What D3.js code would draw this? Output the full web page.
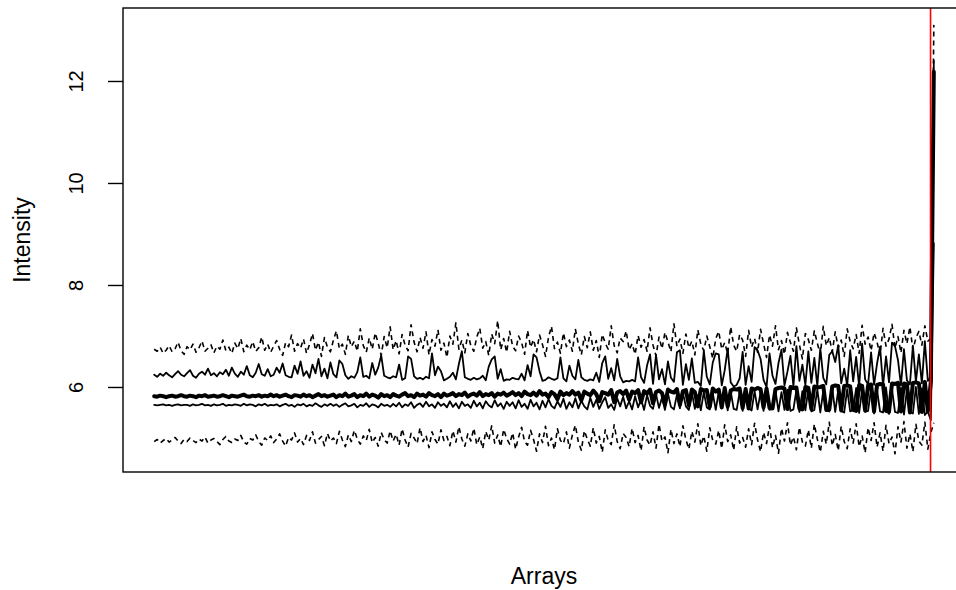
<!DOCTYPE html>
<html>
<head>
<meta charset="utf-8">
<script src="https://cdn.jsdelivr.net/npm/d3@7"></script>
<style>
  body { margin: 0; background: #fff; }
  svg text { font-family: "Liberation Sans", Arial, Helvetica, sans-serif; fill: #000; }
</style>
</head>
<body>
<div id="chart"></div>
<script>
// per-array intensity quantiles, one value per array (left to right)
const q95 = [
  6.74,6.70,6.78,6.66,6.72,6.81,6.69,6.75,6.88,6.71,6.64,6.79,6.73,6.84,6.68,6.77,6.90,6.70,6.76,6.83,
  6.67,6.80,6.74,6.92,6.71,6.78,6.66,6.86,6.75,6.95,6.69,6.82,6.73,6.89,6.70,6.77,6.98,6.72,6.84,6.68,
  6.80,6.91,6.74,6.62,6.87,6.79,7.02,6.70,6.85,6.76,6.94,6.66,6.83,7.05,6.72,6.88,6.60,6.97,6.78,6.69,
  6.92,7.10,6.75,6.84,6.64,7.01,6.79,6.90,6.70,7.14,6.81,6.68,6.96,6.74,7.06,6.86,6.62,6.99,6.77,7.18,
  6.73,6.91,6.65,7.03,6.82,6.71,7.22,6.88,6.69,6.97,6.76,7.08,6.63,6.93,6.80,7.12,6.72,6.86,6.58,7.00,
  6.84,7.26,6.74,6.92,6.67,7.05,6.81,6.70,6.98,7.15,6.76,6.89,6.62,7.04,6.85,7.30,6.73,6.95,6.68,7.09,
  6.80,6.71,7.00,6.87,6.64,7.11,6.78,6.93,6.69,7.02,6.83,6.60,6.97,7.19,6.75,6.88,6.66,7.06,6.79,6.92,
  6.70,7.14,6.84,6.63,6.99,6.77,7.08,6.72,6.91,6.58,7.03,6.86,6.74,7.20,6.81,6.67,6.96,6.89,7.10,6.73,
  6.85,6.64,7.01,6.78,6.93,6.70,7.16,6.82,6.61,6.98,6.75,7.07,6.88,6.69,7.24,6.80,6.94,6.66,7.04,6.77,
  6.90,6.63,7.12,6.84,6.71,7.00,6.79,6.56,6.95,7.09,6.74,6.87,6.65,7.18,6.82,6.70,7.03,6.92,6.60,7.11,
  6.78,6.95,6.68,7.13,6.85,6.58,7.02,6.80,7.20,6.73,6.91,6.64,7.07,6.87,6.70,7.16,6.83,6.55,7.05,6.93,
  6.72,7.10,6.86,6.63,7.19,6.81,6.97,6.69,7.08,6.77,6.92,6.60,7.14,6.89,6.75,7.03,6.66,7.21,6.84,6.98,
  6.71,7.06,6.88,6.62,7.15,6.80,6.94,7.23,6.76,6.99,6.67,7.11,6.85,7.18,6.73,6.96,7.09,6.82,7.20,6.90,
  6.95,13.10
];
const q75 = [
  6.24,6.20,6.26,6.22,6.28,6.23,6.19,6.25,6.31,6.24,6.21,6.27,6.33,6.22,6.18,6.26,6.30,6.24,6.36,6.23,
  6.27,6.21,6.29,6.25,6.34,6.22,6.38,6.26,6.20,6.30,6.24,6.41,6.23,6.19,6.28,6.45,6.25,6.22,6.35,6.21,
  6.24,6.38,6.28,6.46,6.23,6.20,6.19,6.42,6.26,6.50,6.22,6.31,6.18,6.44,6.27,6.55,6.21,6.36,6.17,6.48,
  6.25,6.19,6.52,6.45,6.23,6.16,6.21,6.18,6.29,6.58,6.20,6.22,6.17,6.47,6.24,6.38,6.62,6.22,6.19,6.17,
  6.21,6.19,6.44,6.14,6.17,6.60,6.55,6.21,6.16,6.18,6.15,6.20,6.17,6.66,6.23,6.40,6.31,6.13,6.16,6.20,
  6.28,6.15,6.45,6.70,6.19,6.16,6.14,6.18,6.15,6.17,6.22,6.13,6.40,6.54,6.60,6.16,6.35,6.12,6.15,6.14,
  6.18,6.16,6.15,6.26,6.13,6.43,6.21,6.64,6.58,6.31,6.12,6.14,6.19,6.16,6.14,6.17,6.58,6.17,6.11,6.42,
  6.22,6.15,6.53,6.19,6.14,6.12,6.15,6.13,6.28,6.10,6.47,6.60,6.16,6.37,6.13,6.55,6.21,6.09,6.12,6.11,
  6.14,6.11,6.58,6.19,6.08,6.42,6.64,6.06,6.63,6.15,6.35,6.05,6.50,6.18,6.10,6.68,6.72,6.04,6.45,6.14,
  6.56,6.08,6.10,6.02,6.71,6.20,6.05,6.48,6.66,6.64,6.03,6.33,6.75,6.09,6.01,6.04,6.17,6.69,6.04,6.41,
  6.10,6.78,6.72,6.55,6.14,6.00,6.66,6.22,6.06,6.47,6.73,6.03,6.30,6.61,6.01,6.80,6.12,6.44,6.04,6.70,
  6.08,6.57,6.02,6.76,6.18,6.05,6.63,6.70,6.49,6.82,6.07,6.36,6.03,6.72,6.11,6.59,6.01,6.85,6.15,6.05,
  6.68,6.04,6.46,6.79,6.02,6.60,6.09,6.87,6.80,6.53,6.03,6.74,6.13,6.05,6.81,6.10,6.64,6.07,6.90,6.12,
  6.20,12.40
];
const q50 = [
  5.82,5.81,5.83,5.82,5.80,5.82,5.83,5.81,5.82,5.84,5.82,5.81,5.83,5.82,5.80,5.83,5.82,5.84,5.81,5.82,
  5.83,5.81,5.82,5.84,5.82,5.80,5.83,5.82,5.81,5.83,5.85,5.82,5.81,5.83,5.82,5.84,5.81,5.83,5.82,5.85,
  5.82,5.84,5.81,5.83,5.85,5.82,5.80,5.84,5.83,5.81,5.85,5.82,5.84,5.80,5.83,5.86,5.82,5.84,5.81,5.83,
  5.85,5.80,5.84,5.82,5.87,5.81,5.83,5.86,5.80,5.84,5.82,5.87,5.81,5.85,5.83,5.79,5.86,5.82,5.84,5.80,
  5.86,5.83,5.81,5.85,5.88,5.82,5.84,5.80,5.87,5.83,5.85,5.81,5.88,5.84,5.82,5.86,5.80,5.87,5.83,5.85,
  5.88,5.82,5.86,5.84,5.89,5.81,5.85,5.87,5.83,5.90,5.82,5.86,5.84,5.88,5.81,5.87,5.85,5.89,5.83,5.86,
  5.90,5.84,5.88,5.82,5.91,5.86,5.84,5.89,5.83,5.92,5.85,5.87,5.80,5.90,5.86,5.76,5.91,5.84,5.88,5.85,
  5.92,5.85,5.89,5.74,5.91,5.87,5.84,5.93,5.86,5.72,5.90,5.88,5.85,5.94,5.70,5.89,5.92,5.86,5.93,5.75,
  5.91,5.88,5.94,5.70,5.92,5.87,5.95,5.68,5.90,5.93,5.88,5.66,5.95,5.91,5.89,5.96,5.65,5.92,5.94,5.64,
  5.95,5.90,5.62,5.96,5.93,5.94,5.61,5.97,5.91,5.95,5.60,5.98,5.62,5.93,5.96,5.95,5.97,5.59,5.96,5.58,
  5.97,5.95,5.98,5.96,5.60,5.97,5.59,5.58,5.96,5.98,5.99,5.97,5.57,6.00,5.98,5.99,5.58,5.56,6.00,5.98,
  5.57,6.01,5.99,6.00,6.02,5.55,5.56,6.01,6.03,6.02,5.54,6.02,6.03,6.01,5.55,5.53,6.04,6.02,5.54,6.03,
  6.05,5.52,6.04,6.06,6.05,5.53,5.51,6.07,6.06,6.08,5.52,6.07,6.05,5.50,6.08,6.09,6.07,5.51,6.10,5.52,
  6.10,12.18
];
const q25 = [
  5.65,5.64,5.65,5.66,5.64,5.65,5.63,5.65,5.66,5.64,5.65,5.65,5.63,5.66,5.64,5.65,5.67,5.64,5.65,5.63,
  5.66,5.64,5.65,5.67,5.63,5.65,5.64,5.66,5.65,5.63,5.67,5.64,5.66,5.65,5.62,5.66,5.64,5.67,5.63,5.65,
  5.64,5.66,5.62,5.65,5.67,5.63,5.65,5.61,5.66,5.64,5.67,5.62,5.65,5.63,5.68,5.64,5.61,5.66,5.63,5.67,
  5.63,5.66,5.61,5.65,5.68,5.62,5.64,5.67,5.60,5.65,5.63,5.68,5.61,5.66,5.64,5.60,5.67,5.63,5.65,5.61,
  5.67,5.62,5.69,5.60,5.66,5.63,5.70,5.59,5.65,5.68,5.61,5.71,5.62,5.66,5.59,5.70,5.63,5.67,5.60,5.72,
  5.61,5.68,5.58,5.71,5.63,5.66,5.59,5.73,5.62,5.69,5.58,5.72,5.64,5.60,5.74,5.62,5.68,5.57,5.71,5.63,
  5.70,5.58,5.74,5.61,5.67,5.57,5.75,5.62,5.69,5.56,5.73,5.60,5.76,5.63,5.58,5.72,5.61,5.77,5.57,5.70,
  5.60,5.78,5.58,5.73,5.62,5.56,5.79,5.61,5.75,5.57,5.70,5.80,5.59,5.66,5.55,5.78,5.62,5.81,5.58,5.72,
  5.56,5.82,5.60,5.76,5.55,5.84,5.63,5.57,5.86,5.59,5.79,5.55,5.87,5.61,5.56,5.85,5.58,5.88,5.62,5.55,
  5.89,5.57,5.84,5.54,5.90,5.60,5.56,5.88,5.55,5.91,5.58,5.86,5.54,5.92,5.57,5.55,5.90,5.53,5.93,5.59,
  5.54,5.92,5.56,5.89,5.53,5.94,5.55,5.57,5.93,5.52,5.90,5.55,5.95,5.53,5.56,5.94,5.51,5.92,5.54,5.96,
  5.52,5.55,5.95,5.50,5.93,5.54,5.52,5.97,5.51,5.94,5.53,5.50,5.96,5.52,5.55,5.98,5.49,5.95,5.51,5.53,
  5.97,5.48,5.94,5.52,5.50,5.99,5.47,5.96,5.51,5.49,5.98,5.46,5.95,5.50,5.48,6.00,5.47,5.97,5.45,5.52,
  5.35,8.82
];
const q05 = [
  4.93,4.97,4.90,4.95,4.99,4.92,4.96,5.01,4.94,4.89,4.97,4.93,5.00,4.95,4.91,4.98,4.94,5.02,4.90,4.96,
  4.99,4.93,4.87,4.97,5.03,4.94,4.91,4.98,4.95,5.05,4.92,4.88,4.99,4.96,5.06,4.93,4.86,5.00,4.95,5.04,
  4.91,4.98,5.08,4.94,4.84,5.01,4.96,5.10,4.92,4.99,4.87,5.05,4.95,5.12,4.90,4.97,5.03,4.85,5.09,4.94,
  5.00,4.89,5.13,4.96,4.83,5.06,4.93,5.15,4.98,4.88,5.04,4.95,5.17,4.91,5.01,4.84,5.11,4.97,4.90,5.14,
  4.94,5.07,4.86,5.18,4.96,4.82,5.09,5.00,4.89,5.20,4.93,5.05,4.81,5.12,4.97,4.88,5.16,4.95,5.03,4.85,
  5.14,4.92,5.22,4.98,4.84,5.08,4.94,5.19,4.87,5.02,4.79,5.13,4.96,5.24,4.90,5.06,4.83,5.17,4.99,4.88,
  5.10,4.78,5.02,5.21,4.93,4.86,5.15,4.97,4.74,5.08,4.91,5.23,4.85,5.00,4.77,5.18,4.95,4.89,5.12,4.80,
  5.06,5.25,4.92,4.76,5.14,4.98,4.84,5.20,4.90,5.03,4.72,5.16,4.95,4.87,5.26,4.93,4.79,5.09,5.01,4.83,
  5.19,4.91,5.05,4.75,5.22,4.96,4.86,5.12,4.80,5.27,4.94,5.02,4.71,5.17,4.89,5.08,4.83,5.24,4.97,4.78,
  5.13,4.92,5.28,4.85,5.04,4.74,5.20,4.95,4.88,5.15,4.79,5.26,4.93,5.06,4.76,5.22,4.90,5.01,4.82,5.18,
  4.87,5.29,4.96,4.73,5.11,4.89,5.24,4.81,5.05,4.70,5.19,4.94,5.30,4.86,5.02,4.77,5.21,4.92,4.84,5.16,
  4.80,5.27,4.98,4.72,5.13,4.88,5.31,4.85,5.07,4.75,5.23,4.93,4.79,5.18,4.90,5.28,4.83,5.04,4.71,5.20,
  4.95,5.30,4.82,5.10,4.74,5.25,4.89,5.02,4.69,5.22,4.92,5.32,4.80,5.08,4.73,5.27,4.94,4.86,5.31,4.78,
  5.10,5.30
];

// y axis ticks and the array index where the red marker sits
const yTicks = [6, 8, 10, 12];
const yRange = [4.333, 13.431];
const markerAt = 260.9;

const seriesList = [
  {name: "q05", values: q05, dash: "5,4", width: 1.6},
  {name: "q25", values: q25, dash: null, width: 1.8},
  {name: "q50", values: q50, dash: null, width: 4},
  {name: "q75", values: q75, dash: null, width: 1.8},
  {name: "q95", values: q95, dash: "5,4", width: 1.6}
];

const width = 956, height = 590;
// plot box runs past the right edge of the picture
const box = {left: 123, right: 965, top: 8, bottom: 472};

const svg = d3.select("#chart").append("svg")
    .attr("width", width).attr("height", height);

const n = q50.length;
seriesList.forEach(s => { if (s.values.length !== n) console.log("length mismatch", s.name, s.values.length); });

// R style axis extension: 4% on each side
const pad = 0.04 * (n - 1);
const x = d3.scaleLinear()
    .domain([1 - pad, n + pad])
    .range([box.left, box.right]);

const y = d3.scaleLinear()
    .domain(yRange)
    .range([box.bottom, box.top]);

const line = d3.line()
    .x((d, i) => x(i + 1))
    .y(d => y(d));

const plot = svg.append("g");
plot.append("clipPath").attr("id", "clip")
  .append("rect")
    .attr("x", box.left).attr("y", box.top)
    .attr("width", box.right - box.left).attr("height", box.bottom - box.top);

const lines = plot.append("g").attr("clip-path", "url(#clip)");
seriesList.forEach(s => {
    lines.append("path")
        .datum(s.values)
        .attr("fill", "none")
        .attr("stroke", "#000")
        .attr("stroke-width", s.width)
        .attr("stroke-linejoin", "round")
        .attr("stroke-linecap", s.dash ? "butt" : "round")
        .attr("stroke-dasharray", s.dash)
        .attr("d", line);
});

// red marker line
lines.append("line")
    .attr("x1", x(markerAt)).attr("x2", x(markerAt))
    .attr("y1", box.top).attr("y2", box.bottom)
    .attr("stroke", "#ff0000")
    .attr("stroke-width", 1.6);

// frame
svg.append("rect")
    .attr("x", box.left).attr("y", box.top)
    .attr("width", box.right - box.left).attr("height", box.bottom - box.top)
    .attr("fill", "none").attr("stroke", "#000").attr("stroke-width", 1.4);

// y axis
const yAxis = svg.append("g")
    .attr("transform", `translate(${box.left},0)`)
    .call(d3.axisLeft(y).tickValues(yTicks).tickSize(15).tickFormat(d3.format("d")));
yAxis.select(".domain").remove();
yAxis.selectAll(".tick line").attr("stroke", "#000").attr("stroke-width", 1.4);
yAxis.selectAll(".tick text")
    .attr("x", null).attr("dy", null)
    .attr("transform", "translate(-40,0) rotate(-90)")
    .attr("text-anchor", "middle")
    .attr("font-size", 20)
    .attr("fill", "#000");

// axis titles
svg.append("text")
    .attr("transform", `translate(30,${(box.top + box.bottom) / 2}) rotate(-90)`)
    .attr("text-anchor", "middle")
    .attr("font-size", 23)
    .text("Intensity");

svg.append("text")
    .attr("x", (box.left + box.right) / 2)
    .attr("y", 584)
    .attr("text-anchor", "middle")
    .attr("font-size", 23)
    .text("Arrays");
</script>
</body>
</html>
